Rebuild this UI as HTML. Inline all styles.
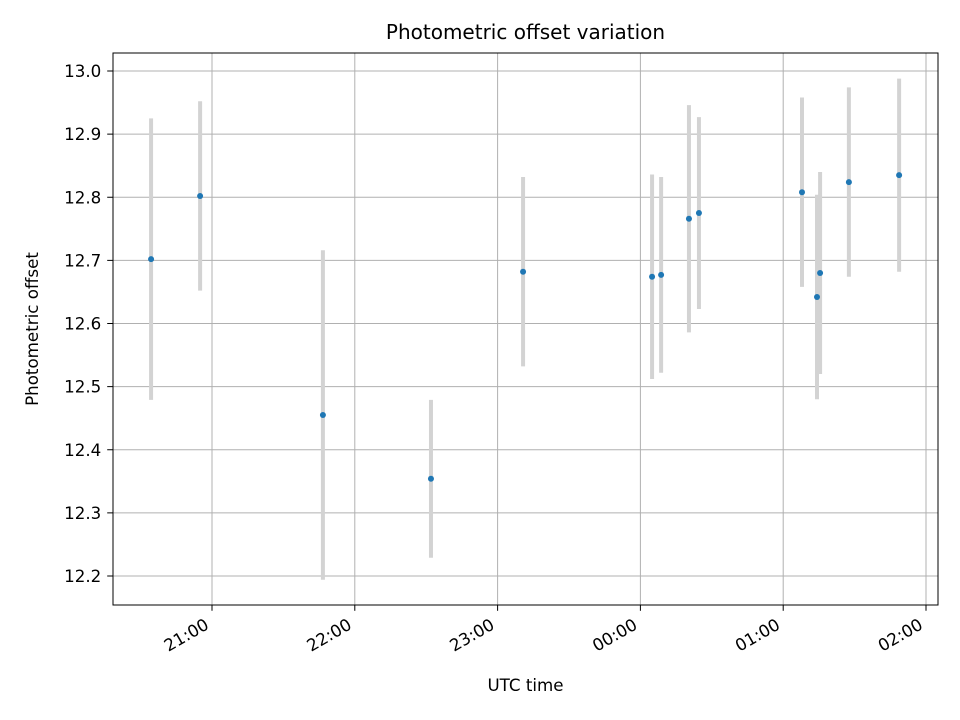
<!DOCTYPE html>
<html><head><meta charset="utf-8"><style>
body{margin:0;background:#fff;}
svg{display:block;font-family:"DejaVu Sans","Liberation Sans",sans-serif;}
</style></head><body>
<svg id="chart" width="960" height="720" xmlns="http://www.w3.org/2000/svg"></svg>
<script>
// minutes relative to 21:00 UTC
const timesMin = [-25.6, -5.0, 46.6, 92.0, 130.7, 184.9, 188.7, 200.4, 204.6, 247.9, 254.2, 255.5, 267.6, 288.7];
const offsets = [12.702, 12.802, 12.455, 12.354, 12.682, 12.674, 12.677, 12.766, 12.775, 12.808, 12.642, 12.680, 12.824, 12.835];
const errors = [0.223, 0.150, 0.261, 0.125, 0.150, 0.162, 0.155, 0.180, 0.152, 0.150, 0.162, 0.160, 0.150, 0.153];
const yTicks = [12.2, 12.3, 12.4, 12.5, 12.6, 12.7, 12.8, 12.9, 13.0];
const xTickMin = [0, 60, 120, 180, 240, 300];
const xTickLabels = ["21:00", "22:00", "23:00", "00:00", "01:00", "02:00"];

const L=113,R=938,T=53,B=605;
const xs = m => 212 + m*(926-212)/300;
const ys = v => 576 - (v-12.2)*(576-71)/0.8;
const svg=document.getElementById('chart');
const NS="http://www.w3.org/2000/svg";
function mk(tag,attrs,parent){const e=document.createElementNS(NS,tag);for(const k in attrs)e.setAttribute(k,attrs[k]);(parent||svg).appendChild(e);return e;}
const FS='font-size:16.7px';

const grid=mk('g',{});


yTicks.forEach((v,i)=>{
  const y=ys(v);
  const gl=mk('line',{x1:L,x2:R,y1:y,y2:y,stroke:'#b0b0b0','stroke-width':1},grid);
  
  
  const tk=mk('line',{x1:L-5.8,x2:L,y1:y,y2:y,stroke:'#000','stroke-width':1});
  
  
  const t=mk('text',{x:L-11.7,y:y+6,'text-anchor':'end',style:FS,fill:'#000'});
  t.textContent=v.toFixed(1);
  
  
});
xTickMin.forEach((m,i)=>{
  const x=xs(m);
  const gl=mk('line',{x1:x,x2:x,y1:T,y2:B,stroke:'#b0b0b0','stroke-width':1},grid);
  
  
  const tk=mk('line',{x1:x,x2:x,y1:B,y2:B+5.8,stroke:'#000','stroke-width':1});
  
  
  const ax=x-2, ay=B+23;
  const t=mk('text',{x:ax,y:ay,'text-anchor':'end',style:FS,fill:'#000',transform:`rotate(-30 ${ax} ${ay})`});
  t.textContent=xTickLabels[i];
  
  
});

const series=mk('g',{});


timesMin.forEach((m,i)=>{
  const x=xs(m);
  const eb=mk('line',{x1:x,x2:x,y1:ys(offsets[i]+errors[i]),y2:ys(offsets[i]-errors[i]),stroke:'#d3d3d3','stroke-width':4},series);
  
  
});
timesMin.forEach((m,i)=>{
  const p=mk('circle',{cx:xs(m),cy:ys(offsets[i]),r:3,fill:'#1f77b4'},series);
  
  
});

const frame=mk('rect',{x:L,y:T,width:R-L,height:B-T,fill:'none',stroke:'#000','stroke-width':1});



const title=mk('text',{x:(L+R)/2,y:39,'text-anchor':'middle',style:'font-size:20px',fill:'#000'});
title.textContent='Photometric offset variation';


const xl=mk('text',{x:(L+R)/2,y:691,'text-anchor':'middle',style:FS,fill:'#000'});
xl.textContent='UTC time';


const yl=mk('text',{x:38,y:(T+B)/2,'text-anchor':'middle',style:FS,fill:'#000',transform:`rotate(-90 38 ${(T+B)/2})`});
yl.textContent='Photometric offset';


</script>
</body></html>
